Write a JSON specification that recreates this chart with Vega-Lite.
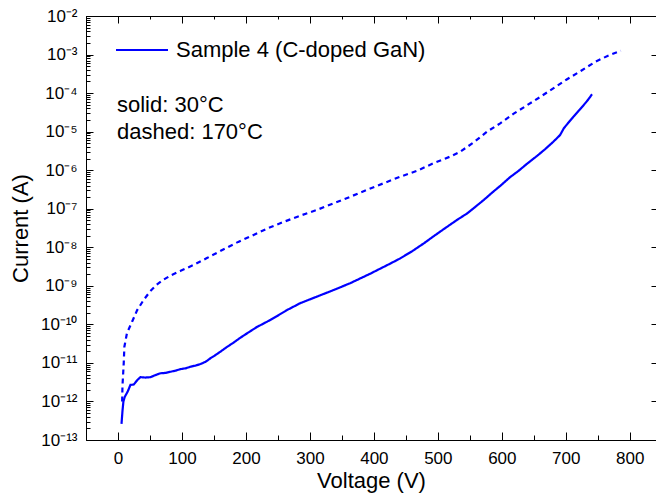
{
  "$schema": "https://vega.github.io/schema/vega-lite/v6.json",
  "width": 570,
  "height": 424,
  "autosize": {"type": "none"},
  "padding": {"left": 86, "top": 16, "right": 0, "bottom": 55},
  "background": "white",
  "config": {
    "font": "Liberation Sans",
    "view": {"stroke": null},
    "axis": {
      "domainColor": "black", "labelColor": "black", "titleColor": "black",
      "labelFont": "Liberation Sans", "titleFont": "Liberation Sans",
      "labelFontSize": 17, "titleFontSize": 22, "titleFontWeight": "normal",
      "grid": false
    },
    "legend": {"labelFont": "Liberation Sans", "labelColor": "black"}
  },
  "data": {
    "values": [
      {"v": 5.5, "i": 2.63e-13, "t": "30°C", "s": "Sample 4 (C-doped GaN)"},
      {"v": 7, "i": 5.62e-13, "t": "30°C", "s": "Sample 4 (C-doped GaN)"},
      {"v": 8.5, "i": 1.0e-12, "t": "30°C", "s": "Sample 4 (C-doped GaN)"},
      {"v": 10.6, "i": 1.32e-12, "t": "30°C", "s": "Sample 4 (C-doped GaN)"},
      {"v": 15, "i": 1.78e-12, "t": "30°C", "s": "Sample 4 (C-doped GaN)"},
      {"v": 19.5, "i": 2.69e-12, "t": "30°C", "s": "Sample 4 (C-doped GaN)"},
      {"v": 24.7, "i": 2.75e-12, "t": "30°C", "s": "Sample 4 (C-doped GaN)"},
      {"v": 30, "i": 3.55e-12, "t": "30°C", "s": "Sample 4 (C-doped GaN)"},
      {"v": 35, "i": 4.27e-12, "t": "30°C", "s": "Sample 4 (C-doped GaN)"},
      {"v": 43, "i": 4.17e-12, "t": "30°C", "s": "Sample 4 (C-doped GaN)"},
      {"v": 51, "i": 4.27e-12, "t": "30°C", "s": "Sample 4 (C-doped GaN)"},
      {"v": 58, "i": 4.79e-12, "t": "30°C", "s": "Sample 4 (C-doped GaN)"},
      {"v": 66, "i": 5.37e-12, "t": "30°C", "s": "Sample 4 (C-doped GaN)"},
      {"v": 74, "i": 5.50e-12, "t": "30°C", "s": "Sample 4 (C-doped GaN)"},
      {"v": 82, "i": 5.89e-12, "t": "30°C", "s": "Sample 4 (C-doped GaN)"},
      {"v": 90, "i": 6.31e-12, "t": "30°C", "s": "Sample 4 (C-doped GaN)"},
      {"v": 98, "i": 6.92e-12, "t": "30°C", "s": "Sample 4 (C-doped GaN)"},
      {"v": 106, "i": 7.24e-12, "t": "30°C", "s": "Sample 4 (C-doped GaN)"},
      {"v": 113, "i": 7.94e-12, "t": "30°C", "s": "Sample 4 (C-doped GaN)"},
      {"v": 121, "i": 8.51e-12, "t": "30°C", "s": "Sample 4 (C-doped GaN)"},
      {"v": 129, "i": 9.33e-12, "t": "30°C", "s": "Sample 4 (C-doped GaN)"},
      {"v": 137, "i": 1.07e-11, "t": "30°C", "s": "Sample 4 (C-doped GaN)"},
      {"v": 144.5, "i": 1.32e-11, "t": "30°C", "s": "Sample 4 (C-doped GaN)"},
      {"v": 152, "i": 1.58e-11, "t": "30°C", "s": "Sample 4 (C-doped GaN)"},
      {"v": 160, "i": 1.95e-11, "t": "30°C", "s": "Sample 4 (C-doped GaN)"},
      {"v": 170, "i": 2.57e-11, "t": "30°C", "s": "Sample 4 (C-doped GaN)"},
      {"v": 181, "i": 3.39e-11, "t": "30°C", "s": "Sample 4 (C-doped GaN)"},
      {"v": 191, "i": 4.47e-11, "t": "30°C", "s": "Sample 4 (C-doped GaN)"},
      {"v": 202, "i": 5.89e-11, "t": "30°C", "s": "Sample 4 (C-doped GaN)"},
      {"v": 217, "i": 8.51e-11, "t": "30°C", "s": "Sample 4 (C-doped GaN)"},
      {"v": 233, "i": 1.17e-10, "t": "30°C", "s": "Sample 4 (C-doped GaN)"},
      {"v": 248, "i": 1.62e-10, "t": "30°C", "s": "Sample 4 (C-doped GaN)"},
      {"v": 264, "i": 2.34e-10, "t": "30°C", "s": "Sample 4 (C-doped GaN)"},
      {"v": 285, "i": 3.55e-10, "t": "30°C", "s": "Sample 4 (C-doped GaN)"},
      {"v": 311, "i": 5.25e-10, "t": "30°C", "s": "Sample 4 (C-doped GaN)"},
      {"v": 337, "i": 7.76e-10, "t": "30°C", "s": "Sample 4 (C-doped GaN)"},
      {"v": 363, "i": 1.17e-9, "t": "30°C", "s": "Sample 4 (C-doped GaN)"},
      {"v": 395, "i": 2.09e-9, "t": "30°C", "s": "Sample 4 (C-doped GaN)"},
      {"v": 426, "i": 3.80e-9, "t": "30°C", "s": "Sample 4 (C-doped GaN)"},
      {"v": 441, "i": 5.13e-9, "t": "30°C", "s": "Sample 4 (C-doped GaN)"},
      {"v": 460, "i": 7.94e-9, "t": "30°C", "s": "Sample 4 (C-doped GaN)"},
      {"v": 478, "i": 1.26e-8, "t": "30°C", "s": "Sample 4 (C-doped GaN)"},
      {"v": 493, "i": 1.91e-8, "t": "30°C", "s": "Sample 4 (C-doped GaN)"},
      {"v": 510, "i": 3.02e-8, "t": "30°C", "s": "Sample 4 (C-doped GaN)"},
      {"v": 530, "i": 5.13e-8, "t": "30°C", "s": "Sample 4 (C-doped GaN)"},
      {"v": 546, "i": 7.59e-8, "t": "30°C", "s": "Sample 4 (C-doped GaN)"},
      {"v": 560, "i": 1.17e-7, "t": "30°C", "s": "Sample 4 (C-doped GaN)"},
      {"v": 572, "i": 1.70e-7, "t": "30°C", "s": "Sample 4 (C-doped GaN)"},
      {"v": 585, "i": 2.63e-7, "t": "30°C", "s": "Sample 4 (C-doped GaN)"},
      {"v": 598, "i": 3.98e-7, "t": "30°C", "s": "Sample 4 (C-doped GaN)"},
      {"v": 613, "i": 6.61e-7, "t": "30°C", "s": "Sample 4 (C-doped GaN)"},
      {"v": 626, "i": 9.55e-7, "t": "30°C", "s": "Sample 4 (C-doped GaN)"},
      {"v": 639, "i": 1.45e-6, "t": "30°C", "s": "Sample 4 (C-doped GaN)"},
      {"v": 655, "i": 2.34e-6, "t": "30°C", "s": "Sample 4 (C-doped GaN)"},
      {"v": 668, "i": 3.55e-6, "t": "30°C", "s": "Sample 4 (C-doped GaN)"},
      {"v": 680, "i": 5.37e-6, "t": "30°C", "s": "Sample 4 (C-doped GaN)"},
      {"v": 691, "i": 8.13e-6, "t": "30°C", "s": "Sample 4 (C-doped GaN)"},
      {"v": 697, "i": 1.23e-5, "t": "30°C", "s": "Sample 4 (C-doped GaN)"},
      {"v": 705, "i": 1.78e-5, "t": "30°C", "s": "Sample 4 (C-doped GaN)"},
      {"v": 712, "i": 2.45e-5, "t": "30°C", "s": "Sample 4 (C-doped GaN)"},
      {"v": 720, "i": 3.47e-5, "t": "30°C", "s": "Sample 4 (C-doped GaN)"},
      {"v": 728, "i": 4.90e-5, "t": "30°C", "s": "Sample 4 (C-doped GaN)"},
      {"v": 735, "i": 6.76e-5, "t": "30°C", "s": "Sample 4 (C-doped GaN)"},
      {"v": 741, "i": 9.33e-5, "t": "30°C", "s": "Sample 4 (C-doped GaN)"},
      {"v": 6.5, "i": 1.0e-12, "t": "170°C", "s": "Sample 4 (C-doped GaN)"},
      {"v": 7, "i": 2.51e-12, "t": "170°C", "s": "Sample 4 (C-doped GaN)"},
      {"v": 8, "i": 5.01e-12, "t": "170°C", "s": "Sample 4 (C-doped GaN)"},
      {"v": 9, "i": 1.0e-11, "t": "170°C", "s": "Sample 4 (C-doped GaN)"},
      {"v": 10, "i": 2.63e-11, "t": "170°C", "s": "Sample 4 (C-doped GaN)"},
      {"v": 14, "i": 5.89e-11, "t": "170°C", "s": "Sample 4 (C-doped GaN)"},
      {"v": 22, "i": 1.17e-10, "t": "170°C", "s": "Sample 4 (C-doped GaN)"},
      {"v": 30, "i": 2.34e-10, "t": "170°C", "s": "Sample 4 (C-doped GaN)"},
      {"v": 40, "i": 4.27e-10, "t": "170°C", "s": "Sample 4 (C-doped GaN)"},
      {"v": 50, "i": 7.1e-10, "t": "170°C", "s": "Sample 4 (C-doped GaN)"},
      {"v": 60, "i": 1.05e-9, "t": "170°C", "s": "Sample 4 (C-doped GaN)"},
      {"v": 70, "i": 1.4e-9, "t": "170°C", "s": "Sample 4 (C-doped GaN)"},
      {"v": 82, "i": 1.85e-9, "t": "170°C", "s": "Sample 4 (C-doped GaN)"},
      {"v": 98, "i": 2.45e-9, "t": "170°C", "s": "Sample 4 (C-doped GaN)"},
      {"v": 118, "i": 3.47e-9, "t": "170°C", "s": "Sample 4 (C-doped GaN)"},
      {"v": 139, "i": 5.25e-9, "t": "170°C", "s": "Sample 4 (C-doped GaN)"},
      {"v": 163, "i": 8.51e-9, "t": "170°C", "s": "Sample 4 (C-doped GaN)"},
      {"v": 188, "i": 1.38e-8, "t": "170°C", "s": "Sample 4 (C-doped GaN)"},
      {"v": 212, "i": 2.09e-8, "t": "170°C", "s": "Sample 4 (C-doped GaN)"},
      {"v": 235, "i": 3.16e-8, "t": "170°C", "s": "Sample 4 (C-doped GaN)"},
      {"v": 259, "i": 4.57e-8, "t": "170°C", "s": "Sample 4 (C-doped GaN)"},
      {"v": 285, "i": 6.61e-8, "t": "170°C", "s": "Sample 4 (C-doped GaN)"},
      {"v": 311, "i": 9.33e-8, "t": "170°C", "s": "Sample 4 (C-doped GaN)"},
      {"v": 337, "i": 1.38e-7, "t": "170°C", "s": "Sample 4 (C-doped GaN)"},
      {"v": 363, "i": 2.04e-7, "t": "170°C", "s": "Sample 4 (C-doped GaN)"},
      {"v": 389, "i": 3.09e-7, "t": "170°C", "s": "Sample 4 (C-doped GaN)"},
      {"v": 415, "i": 4.57e-7, "t": "170°C", "s": "Sample 4 (C-doped GaN)"},
      {"v": 441, "i": 6.76e-7, "t": "170°C", "s": "Sample 4 (C-doped GaN)"},
      {"v": 467, "i": 9.55e-7, "t": "170°C", "s": "Sample 4 (C-doped GaN)"},
      {"v": 493, "i": 1.51e-6, "t": "170°C", "s": "Sample 4 (C-doped GaN)"},
      {"v": 519, "i": 2.24e-6, "t": "170°C", "s": "Sample 4 (C-doped GaN)"},
      {"v": 535, "i": 3.02e-6, "t": "170°C", "s": "Sample 4 (C-doped GaN)"},
      {"v": 556, "i": 5.25e-6, "t": "170°C", "s": "Sample 4 (C-doped GaN)"},
      {"v": 577, "i": 1.0e-5, "t": "170°C", "s": "Sample 4 (C-doped GaN)"},
      {"v": 598, "i": 1.66e-5, "t": "170°C", "s": "Sample 4 (C-doped GaN)"},
      {"v": 618, "i": 2.88e-5, "t": "170°C", "s": "Sample 4 (C-doped GaN)"},
      {"v": 640, "i": 4.90e-5, "t": "170°C", "s": "Sample 4 (C-doped GaN)"},
      {"v": 660, "i": 7.94e-5, "t": "170°C", "s": "Sample 4 (C-doped GaN)"},
      {"v": 681, "i": 1.35e-4, "t": "170°C", "s": "Sample 4 (C-doped GaN)"},
      {"v": 702, "i": 2.29e-4, "t": "170°C", "s": "Sample 4 (C-doped GaN)"},
      {"v": 724, "i": 3.80e-4, "t": "170°C", "s": "Sample 4 (C-doped GaN)"},
      {"v": 746, "i": 6.46e-4, "t": "170°C", "s": "Sample 4 (C-doped GaN)"},
      {"v": 766, "i": 9.33e-4, "t": "170°C", "s": "Sample 4 (C-doped GaN)"},
      {"v": 786, "i": 1.26e-3, "t": "170°C", "s": "Sample 4 (C-doped GaN)"}
    ]
  },
  "layer": [
    {
      "mark": {"type": "line", "strokeWidth": 2.2, "clip": true},
      "encoding": {
        "x": {
          "field": "v", "type": "quantitative",
          "scale": {"domain": [-50, 841], "nice": false, "zero": false},
          "axis": {
            "orient": "bottom", "title": "Voltage (V)", "titlePadding": 4,
            "tickCount": 9, "ticks": true, "tickSize": -8, "tickColor": "black", "tickWidth": 1,
            "labelPadding": 18, "labelFlush": false
          }
        },
        "y": {
          "field": "i", "type": "quantitative",
          "scale": {"type": "log", "domain": [1e-13, 1e-2], "nice": false},
          "axis": {
            "orient": "left", "title": "Current (A)", "titlePadding": 8,
            "tickCount": 11, "ticks": true, "tickSize": -7, "tickColor": "black", "tickWidth": 1,
            "labelOverlap": false, "labelFlush": false,
            "labelExpr": "'10⁻' + (-round(log(datum.value)/LN10) >= 10 ? '¹' + ['⁰','¹','²','³','⁴','⁵','⁶','⁷','⁸','⁹'][-round(log(datum.value)/LN10) - 10] : ['⁰','¹','²','³','⁴','⁵','⁶','⁷','⁸','⁹'][-round(log(datum.value)/LN10)])",
            "labelPadding": 16
          }
        },
        "color": {
          "field": "s", "type": "nominal",
          "scale": {"range": ["#0000ff"]},
          "legend": {
            "orient": "none", "legendX": 29, "legendY": 7, "title": null, "padding": 0,
            "symbolType": "stroke", "symbolSize": 2704, "symbolStrokeWidth": 2,
            "labelFontSize": 22, "labelOffset": 7, "labelLimit": 0
          }
        },
        "strokeDash": {
          "field": "t", "type": "nominal",
          "scale": {"domain": ["30°C", "170°C"], "range": [[1, 0], [5, 4]]},
          "legend": {
            "orient": "none", "legendX": 9, "legendY": 78, "title": null, "padding": 0,
            "symbolOpacity": 0, "symbolSize": 1, "labelOffset": 0,
            "labelFontSize": 22, "rowPadding": 5, "labelLimit": 0,
            "labelExpr": "(datum.label == '30°C' ? 'solid: ' : 'dashed: ') + datum.label"
          }
        }
      }
    },
    {
      "mark": {"type": "line", "opacity": 0},
      "encoding": {
        "x": {
          "field": "v", "type": "quantitative",
          "axis": {
            "orient": "top", "title": null, "labels": false, "domain": true,
            "tickCount": 9, "ticks": true, "tickSize": -7, "tickColor": "black", "tickWidth": 1
          }
        },
        "y": {
          "field": "i", "type": "quantitative",
          "axis": {
            "orient": "right", "title": null, "labels": false, "domain": false,
            "tickCount": 11, "ticks": true, "tickSize": -5, "tickColor": "black", "tickWidth": 1
          }
        },
        "detail": {"field": "t"}
      }
    },
    {
      "mark": {"type": "line", "opacity": 0},
      "encoding": {
        "x": {
          "field": "v", "type": "quantitative",
          "axis": {
            "orient": "top", "offset": -424, "title": null, "labels": false, "domain": false,
            "tickCount": 18, "ticks": true, "tickSize": 5, "tickColor": "black", "tickWidth": 1
          }
        },
        "y": {
          "field": "i", "type": "quantitative",
          "axis": {
            "orient": "right", "offset": -570, "title": null, "labels": false, "domain": false,
            "tickCount": 60, "ticks": true, "tickSize": 4, "tickColor": "black", "tickWidth": 1
          }
        },
        "detail": {"field": "t"}
      }
    },
    {
      "mark": {"type": "line", "opacity": 0},
      "encoding": {
        "x": {
          "field": "v", "type": "quantitative",
          "axis": {
            "orient": "bottom", "offset": -424, "title": null, "labels": false, "domain": false,
            "tickCount": 18, "ticks": true, "tickSize": 3, "tickColor": "black", "tickWidth": 1
          }
        },
        "y": {"field": "i", "type": "quantitative", "axis": null},
        "detail": {"field": "t"}
      }
    }
  ],
  "resolve": {"axis": {"x": "independent", "y": "independent"}}
}
